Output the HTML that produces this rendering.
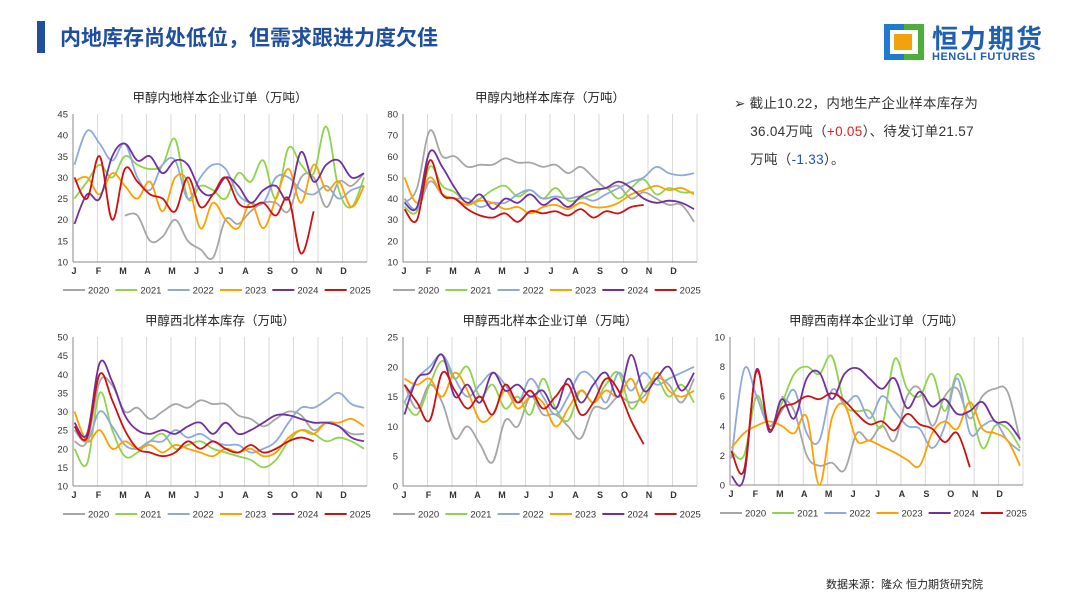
<!DOCTYPE html>
<html><head><meta charset="utf-8">
<style>
body{margin:0;width:1080px;height:608px;background:#fff;font-family:"Liberation Sans","Noto Sans CJK SC",sans-serif;overflow:hidden;position:relative}
.abs{position:absolute}
</style></head>
<body>
<div class="abs" style="left:37px;top:21px;width:8px;height:32px;background:#1f4e9c"></div>
<div class="abs" style="left:60px;top:22px;font-size:21px;font-weight:bold;color:#1f4e9c;font-family:'Liberation Sans','Noto Sans CJK SC',sans-serif">内地库存尚处低位，但需求跟进力度欠佳</div>
<div class="abs" style="left:884px;top:24px;width:40px;height:36px">
 <div class="abs" style="left:0;top:0;width:20px;height:36px;background:#1f7ad0"></div>
 <div class="abs" style="left:20px;top:0;width:20px;height:36px;background:#4caf3c"></div>
 <div class="abs" style="left:6px;top:6px;width:28px;height:24px;background:#fff"></div>
 <div class="abs" style="left:10px;top:10px;width:18px;height:16px;background:#f2a20c"></div>
</div>
<div class="abs" style="left:932px;top:19px;font-size:26px;font-weight:bold;color:#1d5fb0;letter-spacing:2px">恒力期货</div>
<div class="abs" style="left:932px;top:51px;font-size:11px;font-weight:bold;color:#1d5fb0;letter-spacing:0.5px">HENGLI FUTURES</div>
<div class="abs" style="left:734px;top:90px;width:300px;font-size:13.5px;line-height:28px;color:#333;letter-spacing:0.3px">➢&nbsp;截止10.22，内地生产企业样本库存为<br>&nbsp;&nbsp;&nbsp;&nbsp;36.04万吨（<span style="color:#e02020">+0.05</span>）、待发订单21.57<br>&nbsp;&nbsp;&nbsp;&nbsp;万吨（<span style="color:#2050c0">-1.33</span>）。</div>
<div class="abs" style="left:826px;top:576px;font-size:11px;color:#222">数据来源：隆众 恒力期货研究院</div>
<svg id="svg" class="abs" style="left:0;top:0" width="1080" height="608"></svg>
<script>
const months=["J","F","M","A","M","J","J","A","S","O","N","D"];
const years=["2020","2021","2022","2023","2024","2025"];
const colors=["#a6a6a6","#8fd44c","#8eaadb","#ffa000","#7030a0","#d01010"];
const c1_2020=[null,null,null,null,21,21,15,16,20,15,13,11,20,19,22,24,24,22,30,30,23,29,28,31];
const c1_2021=[25,29,33,30,35,33,32,33,39,25,28,27,25,31,29,34,25,37,33,31,42,27,23,30];
const c1_2022=[33,41,38,34,38,30,27,33,34,25,30,33,32,26,24,24,30,30,27,26,28,25,27,28];
const c1_2023=[29,30,26,31,28,25,29,22,30,29,18,24,20,18,24,18,25,32,24,33,27,29,23,28];
const c1_2024=[19,26,25,35,38,34,35,31,34,33,27,26,30,28,24,27,28,25,36,29,33,34,30,31];
const c1_2025=[30,25,35,20,32,29,26,25,22,30,23,26,30,24,23,24,21,25,12,22];
const c2_2020=[38,45,72,60,60,55,56,56,59,57,57,55,56,52,55,50,45,46,40,43,40,37,37,29];
const c2_2021=[36,34,55,46,43,38,40,44,46,41,44,40,45,39,40,42,45,40,45,49,42,45,43,43];
const c2_2022=[40,35,48,42,40,40,36,38,38,42,44,40,41,40,41,39,42,45,48,50,55,52,51,52];
const c2_2023=[50,38,50,42,40,37,39,38,35,36,33,36,37,35,38,36,36,38,42,44,46,44,45,42];
const c2_2024=[38,36,62,55,45,38,42,35,40,38,42,37,40,36,41,44,45,48,45,40,38,39,38,35];
const c2_2025=[35,30,58,42,40,35,32,31,33,29,34,33,34,32,35,31,34,33,36,37];
const c3_2020=[22,22,38,37,30,31,28,30,32,31,33,32,32,29,28,26,28,30,29,25,27,26,24,24];
const c3_2021=[20,16,35,25,18,19,22,24,20,21,22,20,19,18,17,15,17,22,25,24,22,23,22,20];
const c3_2022=[25,22,30,26,21,20,22,22,25,23,24,22,21,21,19,20,22,27,31,31,33,35,32,31];
const c3_2023=[30,22,25,20,22,20,21,19,21,20,19,18,20,19,20,18,19,23,25,24,27,27,28,26];
const c3_2024=[27,24,43,38,29,25,24,25,24,26,27,24,27,24,25,27,29,29,28,27,27,26,23,22];
const c3_2025=[26,23,40,33,25,20,19,18,19,22,20,22,20,19,21,19,20,22,23,22];
const c4_2020=[17,13,17,14,8,10,7,4,11,10,15,12,12,10,8,13,13,15,14,15,18,17,14,18];
const c4_2021=[14,12,17,21,18,20,15,17,13,15,12,18,13,11,16,14,17,19,13,16,18,15,17,14];
const c4_2022=[14,18,20,22,18,15,17,19,17,14,18,15,12,15,19,18,14,19,16,19,17,18,19,20];
const c4_2023=[18,17,18,15,19,16,11,12,16,13,15,14,10,13,16,14,16,15,18,14,19,16,15,16];
const c4_2024=[12,18,19,22,15,17,14,19,16,17,15,16,13,18,14,17,19,15,22,16,18,20,16,19];
const c4_2025=[17,14,11,19,16,13,15,12,17,14,16,13,15,17,12,14,18,16,11,7];
const c5_2020=[null,null,null,null,6,5,2,1.3,1.5,1,3.5,3,4,3,6,6.5,4,6,6.5,4.5,6,6.5,6.3,3];
const c5_2021=[2.3,2,6,4,5.5,7.5,8,7.5,8.7,5.5,5,5,4,8.5,6.5,6,7.5,5,7.5,5.5,2.5,4,3.8,2.5];
const c5_2022=[1.8,7.8,6,4,5,6.4,3.5,3,6.4,5.5,6,4.5,6,5,4,3.8,2.5,4,7.2,3.5,4,4.3,3,2.3];
const c5_2023=[2.5,3.5,4,4.3,4,3.5,4.6,0,4.5,5.4,3,3,2.6,2.2,1.7,1.3,3.5,4.3,3.8,5.6,3.8,3.5,3,1.3];
const c5_2024=[0.6,0.5,7.8,3.6,5.8,4.5,7.2,7.6,5.8,7.5,7.9,7.2,6.5,7.2,5.2,6.3,5.3,5.8,4.8,5,5.6,4.3,4.2,3.1];
const c5_2025=[2.3,1,7.7,3.8,5.2,5.5,6,5.8,6.2,5.7,4.8,4.1,4.3,3.7,4.8,4.1,3.8,2.9,3.5,1.2];
const c1_ticks=[10,15,20,25,30,35,40,45];
const c2_ticks=[10,20,30,40,50,60,70,80];
const c3_ticks=[10,15,20,25,30,35,40,45,50];
const c4_ticks=[0,5,10,15,20,25];
const c5_ticks=[0,2,4,6,8,10];

const NS="http://www.w3.org/2000/svg";
const svg=document.getElementById('svg');
function mk(t,a,p){const e=document.createElementNS(NS,t);for(const k in a)e.setAttribute(k,a[k]);(p||svg).appendChild(e);return e;}
function smooth(pts){let d="M"+pts[0][0]+","+pts[0][1];for(let i=0;i<pts.length-1;i++){const p0=pts[i-1]||pts[i],p1=pts[i],p2=pts[i+1],p3=pts[i+2]||p2;const t=0.18;
d+=" C"+(p1[0]+(p2[0]-p0[0])*t)+","+(p1[1]+(p2[1]-p0[1])*t)+" "+(p2[0]-(p3[0]-p1[0])*t)+","+(p2[1]-(p3[1]-p1[1])*t)+" "+p2[0]+","+p2[1];}return d;}
function chart(name,title,x0,x1,y0,y1,ticks,series){
 const g=mk('g',{});
 const mn=ticks[0],mx=ticks[ticks.length-1];
 const X=f=>x0+(x1-x0)*f, Y=v=>y1-(v-mn)/(mx-mn)*(y1-y0);
 const t=mk('text',{x:(x0+x1)/2,y:y0-12,'text-anchor':'middle','font-size':12.5,fill:'#222'},g);t.textContent=title;
 
 for(let m=0;m<=12;m++){mk('line',{x1:X(m/12),x2:X(m/12),y1:y0,y2:y1,stroke:'#d9d9d9','stroke-width':1},g);}
 mk('line',{x1:x0,x2:x0,y1:y0,y2:y1,stroke:'#888'},g);mk('line',{x1:x0,x2:x1,y1:y1,y2:y1,stroke:'#888'},g);
 ticks.forEach(v=>{const l=mk('text',{x:x0-5,y:Y(v)+3.5,'text-anchor':'end','font-size':9.5,fill:'#333'},g);l.textContent=v;});
 months.forEach((m,i)=>{const l=mk('text',{x:X(i/12)+1,y:y1+12,'text-anchor':'middle','font-size':9,'font-weight':'bold',fill:'#333'},g);l.textContent=m;});
 series.forEach((arr,s)=>{let seg=[];const segs=[];arr.forEach((v,i)=>{if(v==null){if(seg.length)segs.push(seg);seg=[];}else seg.push([X(i/23*0.985+0.005),Y(v)]);});if(seg.length)segs.push(seg);
  segs.forEach(sg=>{const p=mk('path',{d:smooth(sg),fill:'none',stroke:colors[s],'stroke-width':1.8},g);
  });});
 const lw=(x1-x0+20)/6;
 years.forEach((yv,s)=>{const lx=x0-10+s*lw, ly=y1+28;
  const lg=mk('g',{},g);
  mk('line',{x1:lx,x2:lx+22,y1:ly,y2:ly,stroke:colors[s],'stroke-width':2},lg);
  const tt=mk('text',{x:lx+25,y:ly+3.5,'font-size':9.5,fill:'#333'},lg);tt.textContent=yv;});
}
chart('chart-inland-orders','甲醇内地样本企业订单（万吨）',73,367,114,262,c1_ticks,[c1_2020,c1_2021,c1_2022,c1_2023,c1_2024,c1_2025]);
chart('chart-inland-inventory','甲醇内地样本库存（万吨）',403,697,114,262,c2_ticks,[c2_2020,c2_2021,c2_2022,c2_2023,c2_2024,c2_2025]);
chart('chart-northwest-inventory','甲醇西北样本库存（万吨）',73,367,337,486,c3_ticks,[c3_2020,c3_2021,c3_2022,c3_2023,c3_2024,c3_2025]);
chart('chart-northwest-orders','甲醇西北样本企业订单（万吨）',403,697,337,486,c4_ticks,[c4_2020,c4_2021,c4_2022,c4_2023,c4_2024,c4_2025]);
chart('chart-southwest-orders','甲醇西南样本企业订单（万吨）',730,1023,337,485,c5_ticks,[c5_2020,c5_2021,c5_2022,c5_2023,c5_2024,c5_2025]);
</script>
</body></html>
